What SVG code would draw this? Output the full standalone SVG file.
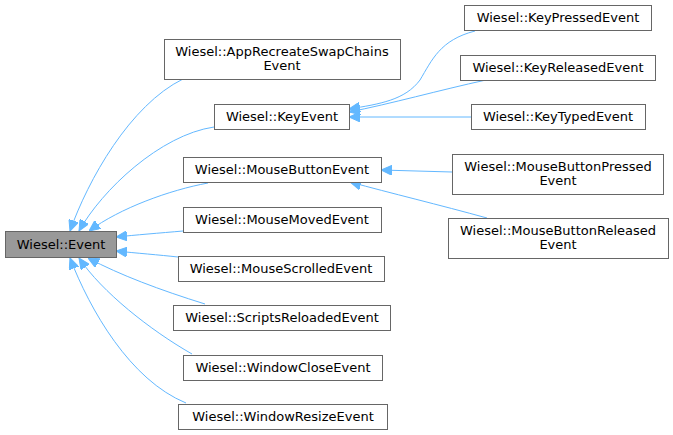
<svg xmlns="http://www.w3.org/2000/svg" width="673" height="435" viewBox="0 0 673 435">
<style>
.n rect{fill:#fff;stroke:#666;stroke-width:1}
.n text{font-family:"DejaVu Sans",sans-serif;font-size:13px;fill:#000;text-anchor:middle}
#edges path{fill:none;stroke:#63b8ff;stroke-width:1;marker-end:url(#ah)}
</style>
<defs>
<marker id="ah" viewBox="0 0 11 10" refX="11" refY="5" markerWidth="11" markerHeight="10" markerUnits="userSpaceOnUse" orient="auto">
<path d="M0,0 L11,5 L0,10 z" fill="#63b8ff" stroke="#63b8ff"/>
</marker>
</defs>
<rect width="673" height="435" fill="#fff"/>
<g id="edges">
<path d="M183,79 C130,105 88,180 70,231"/>
<path d="M214,127 C160,135 102,190 79,231"/>
<path d="M208,183 C170,190 120,208 89,231"/>
<path d="M183,231 C160,233 135,235 116,237"/>
<path d="M178,257 C160,255 135,253 116,251"/>
<path d="M205,304 C160,290 120,275 88,258"/>
<path d="M192,354 C150,330 102,292 79,258"/>
<path d="M186,403 C130,380 90,310 70,258"/>
<path d="M475,31 C440,40 432,60 420,80 C405,100 380,104 349,109"/>
<path d="M486,80 C440,90 390,104 349,112"/>
<path d="M471,117 L349,117"/>
<path d="M452,172 L381,170"/>
<path d="M487,218 C440,205 390,193 350,182"/>
</g>
<g id="event" class="n"><rect x="5.5" y="231.5" width="111" height="26" style="fill:#999"/><text x="61" y="248.5">Wiesel::Event</text></g>
<g id="apprecreate" class="n"><rect x="164.5" y="39.5" width="236" height="40"/><text x="282" y="56">Wiesel::AppRecreateSwapChains</text><text x="282" y="70">Event</text></g>
<g id="keyevent" class="n"><rect x="214.5" y="104.5" width="135" height="25"/><text x="282" y="121">Wiesel::KeyEvent</text></g>
<g id="mousebutton" class="n"><rect x="183.5" y="157.5" width="198" height="25"/><text x="282" y="174">Wiesel::MouseButtonEvent</text></g>
<g id="mousemoved" class="n"><rect x="183.5" y="207.5" width="198" height="25"/><text x="282" y="224">Wiesel::MouseMovedEvent</text></g>
<g id="mousescrolled" class="n"><rect x="178.5" y="256.5" width="206" height="25"/><text x="281" y="273">Wiesel::MouseScrolledEvent</text></g>
<g id="scripts" class="n"><rect x="173.5" y="305.5" width="217" height="25"/><text x="282" y="322">Wiesel::ScriptsReloadedEvent</text></g>
<g id="winclose" class="n"><rect x="183.5" y="355.5" width="199" height="25"/><text x="283" y="372">Wiesel::WindowCloseEvent</text></g>
<g id="winresize" class="n"><rect x="178.5" y="404.5" width="209" height="25"/><text x="283" y="421">Wiesel::WindowResizeEvent</text></g>
<g id="keypressed" class="n"><rect x="464.5" y="5.5" width="187" height="25"/><text x="558" y="22">Wiesel::KeyPressedEvent</text></g>
<g id="keyreleased" class="n"><rect x="460.5" y="55.5" width="195" height="25"/><text x="558" y="72">Wiesel::KeyReleasedEvent</text></g>
<g id="keytyped" class="n"><rect x="471.5" y="104.5" width="174" height="25"/><text x="558" y="121">Wiesel::KeyTypedEvent</text></g>
<g id="mbpressed" class="n"><rect x="452.5" y="154.5" width="211" height="40"/><text x="558" y="171">Wiesel::MouseButtonPressed</text><text x="558" y="185">Event</text></g>
<g id="mbreleased" class="n"><rect x="448.5" y="218.5" width="220" height="40"/><text x="558" y="235">Wiesel::MouseButtonReleased</text><text x="558" y="249">Event</text></g>
</svg>
